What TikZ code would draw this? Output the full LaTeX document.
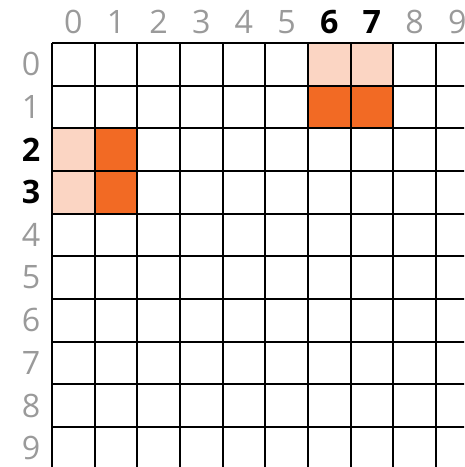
\documentclass[tikz,border=0pt]{standalone}
\usepackage{fontspec}
\setmainfont{Open Sans}
\usepackage{xcolor}
\usetikzlibrary{positioning}
\definecolor{porange}{HTML}{F26A24}
\definecolor{plight}{HTML}{FBD5C3}
\definecolor{pgrayd}{HTML}{9A9A9A}
\tikzset{
  % cell fills and grid lines
  hot/.style   = {fill=porange},
  warm/.style  = {fill=plight},
  gridln/.style = {draw=black, line width=1.3pt},
  idx/.style   = {font=\fontsize{21.5}{25}\selectfont, text=pgrayd, inner sep=0pt},
  sel/.style   = {font=\fontsize{21.5}{25}\selectfont\bfseries, text=black, inner sep=0pt},
}

\begin{document}
\begin{tikzpicture}[x=1cm,y=-1cm]
\useasboundingbox (-1.219,-1.008) rectangle (9.66,9.94);
% --- highlighted cells ---------------------------------------------------
\foreach \c/\r in {6/0,7/0,0/2,0/3}
  {\fill[warm] (\c,\r) rectangle ++(1,1);}
\foreach \c/\r in {6/1,7/1,1/2,1/3}
  {\fill[hot] (\c,\r) rectangle ++(1,1);}
% --- grid ----------------------------------------------------------------
\begin{scope}
  \clip (-1.219,-1.008) rectangle (9.66,9.94);
  \draw[gridln] (0,0) grid (10,10);
\end{scope}
% --- column indices ------------------------------------------------------
\foreach \c in {0,...,9}
  {\ifnum\c=6 \def\st{sel}\else\ifnum\c=7 \def\st{sel}\else\def\st{idx}\fi\fi
   \node[\st] (col\c) at (\c+0.5,-0.5) {\c};}
% --- row indices ---------------------------------------------------------
\foreach \r in {0,...,9}
  {\ifnum\r=2 \def\st{sel}\else\ifnum\r=3 \def\st{sel}\else\def\st{idx}\fi\fi
   \node[\st] (row\r) at (-0.49,\r+0.5) {\r};}
\end{tikzpicture}
\end{document}
